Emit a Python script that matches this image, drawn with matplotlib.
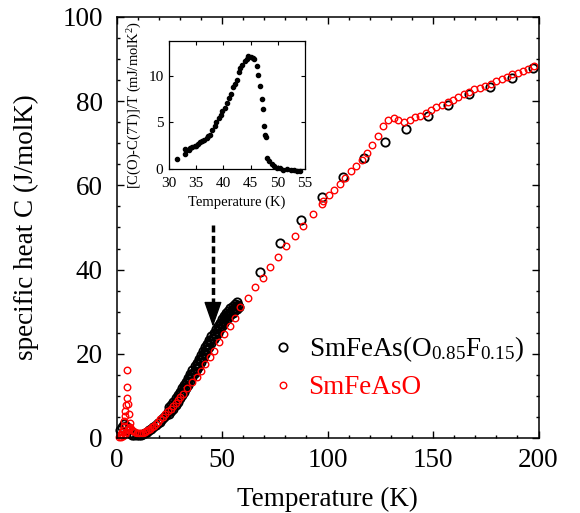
import matplotlib
matplotlib.use("Agg")
import matplotlib.pyplot as plt
from matplotlib.lines import Line2D
from matplotlib.ticker import MultipleLocator

plt.rcParams['font.family'] = ['Liberation Serif', 'DejaVu Serif']
plt.rcParams['mathtext.fontset'] = 'custom'
plt.rcParams['mathtext.rm'] = 'Liberation Serif'
plt.rcParams['mathtext.it'] = 'Liberation Serif:italic'

# ---------------- data ----------------
# SmFeAs(O0.85F0.15): dense low-T data
f_T_low = [1.5, 2.5, 3.5, 4.5, 5.5, 6.5, 7.5, 8.5, 9.5, 10.5, 11.5, 12.5, 13.5, 14.5,
           15.5, 16.5, 17.5, 18.5, 19.5, 20.5, 21.5, 22.5, 23.5, 24.5]
f_C_low = [1.8, 2.6, 3.3, 2.8, 1.8, 1.2, 0.8, 0.6, 0.6, 0.7, 0.8, 1.0, 1.2, 1.5,
           1.8, 2.2, 2.6, 3.0, 3.5, 3.9, 4.4, 4.9, 5.5, 6.1]
f_T_up = [25, 26, 27, 28, 29, 30, 31, 32, 33, 34, 35, 36, 37, 38, 39, 40, 41, 42, 43,
          44, 45, 46, 47, 48, 49, 50, 51, 52, 53, 54, 55, 56, 57]
f_C_up = [7.3, 7.9, 8.6, 9.4, 10.2, 11.0, 11.8, 12.6, 13.4, 14.3, 15.2, 16.1, 17.0,
          17.9, 18.8, 19.7, 20.6, 21.5, 22.4, 23.3, 24.2, 25.0, 25.8, 26.6, 27.4, 28.2,
          28.9, 29.6, 30.2, 30.8, 31.4, 31.9, 32.3]
f_T_mid = [25.5, 26.5, 27.5, 28.5, 29.5, 30.5, 31.5, 32.5, 33.5, 34.5, 35.5, 36.5,
           37.5, 38.5, 39.5, 40.5, 41.5, 42.5, 43.5, 44.5, 45.5, 46.5, 47.5, 48.5,
           49.5, 50.5, 51.5, 52.5, 53.5, 54.5, 55.5, 56.5, 57.5]
f_C_mid = [6.8, 7.45, 8.2, 9.0, 9.8, 10.6, 11.4, 12.2, 13.05, 13.95, 14.85, 15.75,
           16.65, 17.55, 18.45, 19.35, 20.25, 21.15, 22.05, 22.95, 23.8, 24.6, 25.4,
           26.2, 27.0, 27.75, 28.45, 29.1, 29.7, 30.3, 30.85, 31.3, 31.7]
f_T_dn = [25, 26, 27, 28, 29, 30, 31, 32, 33, 34, 35, 36, 37, 38, 39, 40, 41, 42, 43,
          44, 45, 46, 47, 48, 49, 50, 51, 52, 53, 54, 55, 56, 57, 58]
f_C_dn = [5.7, 6.3, 7.0, 7.8, 8.6, 9.4, 10.2, 11.0, 11.8, 12.7, 13.6, 14.5, 15.4, 16.3,
          17.2, 18.1, 19.0, 19.9, 20.8, 21.7, 22.6, 23.4, 24.2, 25.0, 25.8, 26.6, 27.3,
          28.0, 28.6, 29.2, 29.8, 30.3, 30.7, 31.1]
# SmFeAs(O0.85F0.15): sparse high-T data
f_T_high = [68.0, 77.5, 87.3, 97.5, 107.4, 117.3, 127.2, 137.1, 147.4, 157.3, 167.1,
            177.0, 187.3, 197.2]
f_C_high = [39.4, 46.3, 51.7, 57.2, 62.1, 66.4, 70.2, 73.3, 76.5, 79.1, 81.7, 83.4,
            85.5, 87.8]

# SmFeAsO
o_T = [1.0, 1.5, 2.0, 2.5, 3.0, 3.4, 3.6, 3.9, 4.2, 4.5, 5.0, 5.0, 5.0, 5.3, 5.8,
       2.2, 3.0, 3.8, 4.6, 5.4, 6.0,
       6.2, 6.6, 7.2, 8.0, 8.8, 9.7, 10.6, 11.5, 12.4, 13.3, 14.2, 15.1, 16.0, 16.9,
       17.8, 18.7, 19.6, 20.8, 22.0, 23.2, 24.4, 25.6, 26.8, 28.0, 29.2, 30.3,
       31.4, 33.6, 35.7, 38.1, 40.1, 42.0, 44.1, 46.0, 48.4, 50.7, 53.9, 56.3, 58.7,
       62.1, 65.8, 69.3, 72.7, 76.4, 80.3, 84.6, 88.6, 93.0, 97.2, 97.9, 100.5, 103.3,
       105.7, 108.2, 110.9, 113.5, 116.2, 118.9, 120.9, 123.9, 126.5, 128.6, 131.5,
       133.6, 136.2, 138.9, 141.3, 143.8, 146.6, 148.9, 151.6, 154.3, 156.9, 159.5,
       161.9, 164.5, 167.1, 169.6, 172.2, 174.7, 177.3, 179.8, 182.7, 185.0, 187.4,
       190.1, 192.5, 195.2, 197.7]
o_C = [0.3, 0.6, 1.0, 1.5, 2.0, 2.9, 4.0, 5.2, 6.4, 7.9, 9.6, 12.1, 16.2, 8.0, 5.8,
       0.2, 0.5, 1.0, 1.4, 1.8, 2.3,
       3.5, 2.5, 2.0, 1.7, 1.5, 1.3, 1.2, 1.2, 1.3, 1.4, 1.6, 1.9, 2.2, 2.5,
       2.9, 3.3, 3.8, 4.5, 5.1, 5.7, 6.3, 7.0, 7.7, 8.4, 9.1, 9.8,
       10.4, 11.8, 13.2, 14.5, 16.0, 17.5, 19.3, 20.7, 22.9, 24.7, 26.7, 28.6, 31.0,
       33.3, 35.8, 38.0, 40.5, 42.9, 45.5, 47.9, 50.3, 53.1, 55.6, 56.4, 57.7, 59.0,
       60.4, 61.8, 63.3, 64.6, 66.0, 67.8, 69.5, 71.7, 74.0, 75.5, 75.9,
       75.5, 75.1, 75.5, 76.3, 76.5, 77.2, 78.0, 78.6, 79.0, 79.7, 80.4,
       81.0, 81.8, 82.3, 82.8, 83.1, 83.6, 84.2, 84.7, 85.2, 85.8, 86.4,
       86.8, 87.1, 87.6, 88.3]

# inset: [C(0)-C(7T)]/T
in_T = [31.5, 32.9, 32.9, 33.2, 33.6, 33.9, 34.3, 34.7, 35.0, 35.4, 35.7, 36.1, 36.5,
        36.9, 37.1, 37.5, 37.9, 38.4, 38.7, 39.1, 39.5, 39.8, 40.3, 40.7, 41.1, 41.4,
        41.8, 42.2, 42.5, 42.8, 43.1, 43.5, 43.9, 44.3, 44.6, 45.0, 45.4, 45.7, 46.1,
        46.3, 46.7, 47.1, 47.2, 47.4, 47.6, 47.8, 48.1, 48.4, 48.9, 49.3, 49.8, 50.4,
        51.0, 51.6, 52.4, 52.9, 53.5, 54.1]
in_D = [1.07, 2.1, 1.6, 2.0, 2.07, 2.25, 2.36, 2.43, 2.43, 2.7, 2.9, 3.0, 3.14,
        3.3, 3.5, 3.7, 4.2, 4.6, 5.07, 5.5, 5.8, 6.2, 6.6, 7.1, 7.6, 8.1,
        8.8, 9.1, 9.6, 10.4, 10.9, 11.2, 11.6, 11.8, 12.1, 12.0, 11.9, 11.8, 11.1,
        10.1, 8.9, 7.5, 6.4, 4.6, 3.6, 3.4, 1.2, 0.9, 0.5, 0.3, 0.14, 0.07,
        -0.07, 0.0, -0.14, -0.14, -0.2, -0.2]

label_f = r'SmFeAs(O$_{0.85}$F$_{0.15}$)'
label_o = 'SmFeAsO'

# ---------------- figure ----------------
fig = plt.figure(figsize=(5.8, 5.13), dpi=100)
ax = fig.add_axes([0.2009, 0.1462, 0.7276, 0.8207])

black_kw = dict(linestyle='none', marker='o', markersize=6.0, markerfacecolor='none',
                markeredgecolor='black', markeredgewidth=1.3)
red_kw = dict(linestyle='none', marker='o', markersize=4.7, markerfacecolor='none',
              markeredgecolor='#ff0000', markeredgewidth=1.0)

ax.plot(f_T_low, f_C_low, clip_on=False, **black_kw)
ax.plot(f_T_up, f_C_up, **black_kw)
ax.plot(f_T_mid, f_C_mid, **black_kw)
ax.plot(f_T_dn, f_C_dn, **black_kw)
ax.plot(f_T_high, f_C_high, **black_kw)
ax.plot(o_T, o_C, clip_on=False, **red_kw)

ax.set_xlim(0, 200)
ax.set_ylim(0, 100)
ax.xaxis.set_major_locator(MultipleLocator(50))
ax.xaxis.set_minor_locator(MultipleLocator(10))
ax.yaxis.set_major_locator(MultipleLocator(20))
ax.yaxis.set_minor_locator(MultipleLocator(5))
ax.tick_params(which='both', direction='in', top=True, right=True, width=1.0,
               labelsize=19.5)
ax.tick_params(axis='x', which='both', pad=7)
ax.tick_params(axis='y', which='both', pad=10)
ax.tick_params(which='major', length=5)
ax.tick_params(which='minor', length=2.5)
for s in ax.spines.values():
    s.set_linewidth(1.1)
ax.set_xlabel('Temperature (K)', fontsize=19.5, labelpad=10)
ax.set_ylabel('specific heat C (J/molK)', fontsize=19.5, labelpad=17)

# dashed arrow
ax.plot([45.7, 45.7], [50.6, 30.6], color='black', linewidth=2.5,
        linestyle=(0, (2, 1)), solid_capstyle='butt', dash_capstyle='butt')
ax.annotate('', xy=(45.7, 26.4), xytext=(45.7, 31.0),
            arrowprops=dict(arrowstyle='-|>,head_length=0.8,head_width=0.28',
                            color='black', lw=1.0, mutation_scale=20,
                            shrinkA=0, shrinkB=0))

# legend
handles = [Line2D([], [], **black_kw), Line2D([], [], **red_kw)]
leg = ax.legend(handles, [label_f, label_o], loc='center left',
                bbox_to_anchor=(0.362, 0.168), frameon=False, fontsize=19.5,
                handlelength=1.0, handletextpad=0.45, borderpad=0, borderaxespad=0,
                labelspacing=0.4)
leg.get_texts()[1].set_color('#ff0000')

# inset
ins = fig.add_axes([0.2914, 0.6706, 0.2345, 0.2495])
ins.plot(in_T, in_D, linestyle='none', marker='o', markersize=3.0,
         color='black', clip_on=False)
ins.set_xlim(30, 55)
ins.set_ylim(0, 13.75)
ins.xaxis.set_major_locator(MultipleLocator(5))
ins.yaxis.set_major_locator(MultipleLocator(5))
ins.tick_params(which='both', direction='in', top=True, right=True, labelsize=11,
                length=3, width=0.8)
ins.tick_params(axis='x', pad=6)
ins.tick_params(axis='y', pad=4)
for s in ins.spines.values():
    s.set_linewidth(0.9)
ins.set_xlabel('Temperature (K)', fontsize=10.5, labelpad=4)
ins.set_ylabel(r'[C(O)-C(7T)]/T (mJ/molK$^2$)', fontsize=10.5, labelpad=3)

fig.savefig('out.png', dpi=100)
